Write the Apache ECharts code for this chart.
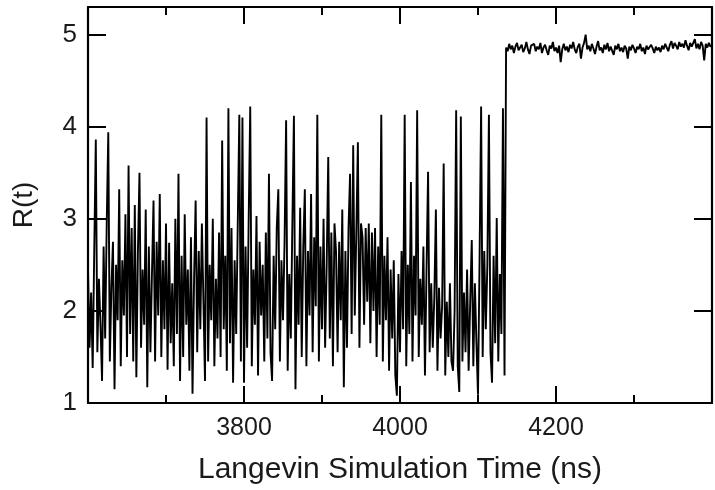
<!DOCTYPE html>
<html>
<head>
<meta charset="utf-8">
<script src="https://cdn.jsdelivr.net/npm/echarts@6/dist/echarts.min.js"></script>
<style>
  html, body { margin: 0; padding: 0; background: #fff; }
  #chart { width: 715px; height: 490px; }
</style>
</head>
<body>
<div id="chart"></div>
<script>
// Sampling of the trajectory: one value every 2 ns starting at 3600 ns
const tStart = 3600;
const tStep = 2;

// R(t) while the pair is still bound (3600 – 4134 ns)
const rBound = [
  2.45, 1.60, 2.20, 1.38, 2.65, 3.86, 1.55, 2.35, 1.85, 1.24, 2.70, 1.70, 2.95, 3.94, 1.45, 2.25, 2.75, 1.15, 2.50, 1.90,
  3.32, 1.40, 2.55, 1.95, 3.05, 1.50, 3.58, 1.75, 2.90, 1.45, 3.15, 1.28, 2.65, 3.50, 1.60, 2.45, 1.85, 3.10, 1.17, 2.70,
  1.55, 2.40, 3.20, 1.45, 2.75, 1.95, 3.27, 1.50, 2.55, 1.80, 2.95, 1.36, 2.74, 1.65, 2.30, 1.40, 3.00, 1.75, 3.49, 1.24,
  2.60, 1.50, 3.05, 1.85, 2.45, 1.35, 2.80, 1.10, 2.35, 3.20, 1.55, 2.65, 1.80, 2.95, 2.10, 1.24, 4.10, 1.45, 2.50, 1.90,
  3.00, 1.40, 2.35, 1.70, 2.85, 1.50, 3.85, 1.80, 2.60, 1.35, 4.20, 1.65, 2.90, 1.22, 2.55, 1.75, 2.95, 4.13, 1.45, 4.10,
  1.22, 2.70, 1.60, 3.00, 4.22, 1.40, 2.45, 1.85, 3.03, 1.30, 2.75, 1.95, 2.50, 1.45, 2.85, 1.70, 3.49, 1.55, 1.24, 2.60,
  1.80, 2.90, 3.32, 1.45, 2.55, 1.90, 2.75, 4.07, 1.35, 2.40, 1.70, 2.95, 4.12, 1.15, 2.60, 1.85, 3.12, 1.50, 2.70, 3.32,
  1.40, 2.65, 1.95, 3.27, 1.55, 2.80, 2.05, 4.13, 1.45, 2.70, 1.80, 3.00, 1.60, 2.50, 3.67, 1.70, 2.85, 1.40, 2.95, 2.64,
  1.55, 2.75, 1.90, 3.10, 1.17, 2.65, 1.60, 2.90, 3.49, 1.75, 3.80, 1.95, 2.85, 3.83, 1.60, 2.95, 2.80, 1.85, 2.90, 2.10,
  2.95, 1.65, 2.85, 2.00, 2.90, 1.50, 2.70, 1.85, 4.13, 1.45, 2.60, 1.90, 2.80, 1.35, 2.45, 1.70, 2.55, 1.30, 1.08, 2.40,
  1.55, 2.65, 1.80, 4.13, 1.40, 2.50, 1.75, 3.40, 1.45, 2.60, 1.95, 4.18, 1.50, 2.35, 1.85, 2.70, 1.30, 2.45, 3.51, 1.55,
  2.30, 1.60, 2.15, 3.10, 1.35, 2.25, 1.70, 2.05, 3.60, 1.30, 2.10, 1.50, 2.30, 1.45, 1.35, 2.00, 4.18, 1.40, 1.12, 4.11,
  1.45, 2.20, 1.55, 2.45, 1.35, 2.10, 2.77, 1.40, 2.30, 1.65, 1.09, 2.55, 4.22, 1.50, 2.65, 1.80, 2.50, 4.13, 1.55, 1.22,
  2.60, 1.65, 3.01, 1.45, 2.40, 1.75, 4.20, 1.30
];

// R(t) after dissociation (4136 – 4400 ns)
const rFree = [
  4.86, 4.82, 4.90, 4.84, 4.88, 4.80, 4.87, 4.91, 4.83, 4.86,
  4.89, 4.81, 4.85, 4.92, 4.84, 4.79, 4.88, 4.86, 4.90, 4.82,
  4.87, 4.84, 4.91, 4.80, 4.86, 4.89, 4.83, 4.78, 4.88, 4.85,
  4.92, 4.82, 4.86, 4.80, 4.88, 4.70, 4.84, 4.90, 4.83, 4.87,
  4.81, 4.89, 4.85, 4.92, 4.84, 4.80, 4.87, 4.90, 4.74, 4.86,
  4.91, 5.00, 4.84, 4.88, 4.82, 4.90, 4.85, 4.79, 4.87, 4.93,
  4.83, 4.86, 4.80, 4.89, 4.84, 4.91, 4.82, 4.87, 4.85, 4.78,
  4.88, 4.84, 4.90, 4.82, 4.86, 4.81, 4.88, 4.85, 4.74, 4.87,
  4.83, 4.89, 4.85, 4.80, 4.87, 4.84, 4.90, 4.82, 4.86, 4.79,
  4.88, 4.84, 4.82, 4.89, 4.85, 4.80, 4.87, 4.83, 4.86, 4.81,
  4.88, 4.84, 4.90, 4.86, 4.82, 4.89, 4.93, 4.85, 4.91, 4.88,
  4.84, 4.92, 4.87, 4.90, 4.86, 4.94, 4.88, 4.83, 4.91, 4.87,
  4.89, 4.95, 4.85, 4.90, 4.84, 4.92, 4.88, 4.72, 4.90, 4.86,
  4.91, 4.87, 4.89
];

// Axis ranges and labelled ticks
const xMin = 3600, xMax = 4400, xMajor = 200;
const xLabels = [3800, 4000, 4200];
const yMin = 1, yMax = 5.3, yMajor = 1;

const series = rBound.concat(rFree).map((r, i) => [tStart + i * tStep, r]);

const font = '"Liberation Sans", Arial, Helvetica, sans-serif';
const ink = '#000';
const textInk = '#1a1a1a';

function xAxisBase(pos, withLabels) {
  return {
    type: 'value', position: pos, min: xMin, max: xMax, interval: xMajor,
    axisLine: { show: true, onZero: false, lineStyle: { color: ink, width: 2.2 } },
    axisTick: { show: true, inside: true, length: 17, lineStyle: { color: ink, width: 2 } },
    minorTick: { show: true, splitNumber: 2, length: 8, lineStyle: { color: ink, width: 2 } },
    splitLine: { show: false }, minorSplitLine: { show: false },
    axisLabel: withLabels ? {
      show: true, margin: 13, color: textInk, fontSize: 25, fontFamily: font,
      formatter: v => (xLabels.indexOf(v) >= 0 ? String(v) : '')
    } : { show: false }
  };
}

function yAxisBase(pos, withLabels) {
  return {
    type: 'value', position: pos, min: yMin, max: yMax, interval: yMajor,
    axisLine: { show: true, onZero: false, lineStyle: { color: ink, width: 2.2 } },
    axisTick: { show: true, inside: true, length: 18, lineStyle: { color: ink, width: 2 } },
    splitLine: { show: false },
    axisLabel: withLabels ? {
      show: true, margin: 11, color: textInk, fontSize: 26, fontFamily: font,
      formatter: v => (Math.abs(v - Math.round(v)) < 1e-9 ? String(Math.round(v)) : '')
    } : { show: false }
  };
}

const chart = echarts.init(document.getElementById('chart'), null, { renderer: 'canvas' });
chart.setOption({
  animation: false,
  backgroundColor: '#fff',
  grid: { left: 88, right: 2, top: 7, bottom: 79, containLabel: false },
  xAxis: [
    Object.assign(xAxisBase('bottom', true), {
      name: 'Langevin Simulation Time (ns)', nameLocation: 'middle', nameGap: 52,
      nameTextStyle: { fontSize: 30, color: textInk, fontFamily: font }
    }),
    xAxisBase('top', false)
  ],
  yAxis: [
    Object.assign(yAxisBase('left', true), {
      name: 'R(t)', nameLocation: 'middle', nameGap: 50, nameRotate: 90,
      nameTextStyle: { fontSize: 28, color: textInk, fontFamily: font }
    }),
    yAxisBase('right', false)
  ],
  series: [{
    type: 'line', xAxisIndex: 0, yAxisIndex: 0, data: series,
    showSymbol: false, symbol: 'none', clip: true,
    lineStyle: { color: ink, width: 1.9, join: 'bevel' }
  }]
});
</script>
</body>
</html>
